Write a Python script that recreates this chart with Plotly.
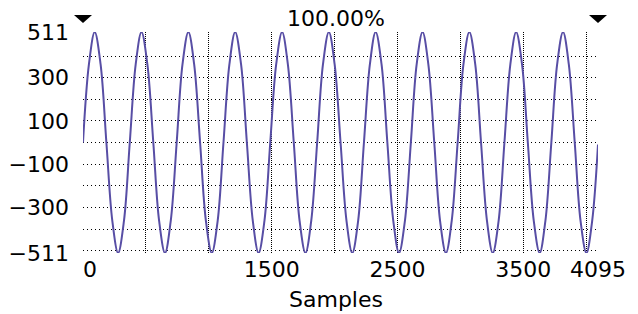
import plotly.graph_objects as go

# ---- data ----
sample_index = [
    0, 47, 93, 140, 186, 233, 279, 326,
    372, 419, 465, 512, 559, 605, 652, 698,
    745, 791, 838, 884, 931, 977, 1024, 1071,
    1117, 1164, 1210, 1257, 1303, 1350, 1396, 1443,
    1489, 1536, 1583, 1629, 1676, 1722, 1769, 1815,
    1862, 1908, 1955, 2001, 2048, 2095, 2141, 2188,
    2234, 2281, 2327, 2374, 2420, 2467, 2513, 2560,
    2607, 2653, 2700, 2746, 2793, 2839, 2886, 2932,
    2979, 3025, 3072, 3119, 3165, 3212, 3258, 3305,
    3351, 3398, 3444, 3491, 3537, 3584, 3631, 3677,
    3724, 3770, 3817, 3863, 3910, 3956, 4003, 4049,
    4095,
]
sample_value = [
    0, 361, 511, 361, 0, -361, -511, -361,
    0, 361, 511, 361, 0, -361, -511, -361,
    0, 361, 511, 361, 0, -361, -511, -361,
    0, 361, 511, 361, 0, -361, -511, -361,
    0, 361, 511, 361, 0, -361, -511, -361,
    0, 361, 511, 361, 0, -361, -511, -361,
    0, 361, 511, 361, 0, -361, -511, -361,
    0, 361, 511, 361, 0, -361, -511, -361,
    0, 361, 511, 361, 0, -361, -511, -361,
    0, 361, 511, 361, 0, -361, -511, -361,
    0, 361, 511, 361, 0, -361, -511, -361,
    -9,
]

x_grid = [0, 500, 1000, 1500, 2000, 2500, 3000, 3500, 4000, 4095]
x_labels = ["\u00a0\u00a00", "", "", "1500", "", "2500", "", "3500", "", "4095"]
y_grid = [-511, -500, -400, -300, -200, -100, 0, 100, 200, 300, 400, 511]
y_labels = ["\u2212511", "", "", "\u2212300", "", "\u2212100", "", "100", "", "300", "", "511"]
cursor_positions = [0, 4095]
title_text = "100.00%"
x_title = "Samples"

Y_MIN, Y_MAX = -511, 511
X_MIN, X_MAX = 0, 4095

FONT = "DejaVu Sans"
FS = 22
LINE_COLOR = "rgb(88,78,165)"

fig = go.Figure()
fig.add_trace(go.Scatter(
    x=sample_index, y=sample_value, mode="lines",
    line=dict(color=LINE_COLOR, width=2, shape="spline", smoothing=1.0),
    hoverinfo="skip", showlegend=False,
))

# cursor triangles above the plot, placed at the cursor sample positions
shapes = []
for cx in cursor_positions:
    shapes.append(dict(
        type="path", xref="paper", yref="paper",
        xsizemode="pixel", ysizemode="pixel",
        xanchor=(cx - X_MIN) / (X_MAX - X_MIN), yanchor=1,
        path="M-9,17 L9,17 L0,9 Z",
        fillcolor="black", line=dict(width=0), layer="above",
    ))

# page body has an 8px default margin, so the figure is 8px smaller than the window
fig.update_layout(
    width=630, height=306,
    margin=dict(l=75, r=40, t=24, b=61, autoexpand=False),
    paper_bgcolor="white", plot_bgcolor="white",
    font=dict(family=FONT, size=FS, color="black"),
    shapes=shapes,
    annotations=[
        dict(
            text=title_text, xref="paper", yref="paper",
            x=0.491, y=1.0, xanchor="center", yanchor="middle", yshift=14, borderpad=0,
            showarrow=False, font=dict(family=FONT, size=FS, color="black"),
        ),
        dict(
            text=x_title, xref="paper", yref="paper",
            x=0.491, y=0.0, xanchor="center", yanchor="middle", yshift=-46, borderpad=0,
            showarrow=False, font=dict(family=FONT, size=FS, color="black"),
        ),
    ],
)
fig.update_xaxes(
    range=[X_MIN, X_MAX], tickmode="array", tickvals=x_grid, ticktext=x_labels,
    showgrid=True, gridcolor="black", gridwidth=1, griddash="1px,1px",
    zeroline=False, showline=False, ticks="", ticklabelstandoff=1, automargin=False,
    tickfont=dict(family=FONT, size=FS, color="black"),
)
fig.update_yaxes(
    range=[Y_MIN, Y_MAX], tickmode="array", tickvals=y_grid, ticktext=y_labels,
    showgrid=True, gridcolor="black", gridwidth=1, griddash="1px,3px",
    zeroline=False, showline=False, ticks="", ticklabelstandoff=13, automargin=False,
    tickfont=dict(family=FONT, size=FS, color="black"),
)

fig.write_html("out.html")
